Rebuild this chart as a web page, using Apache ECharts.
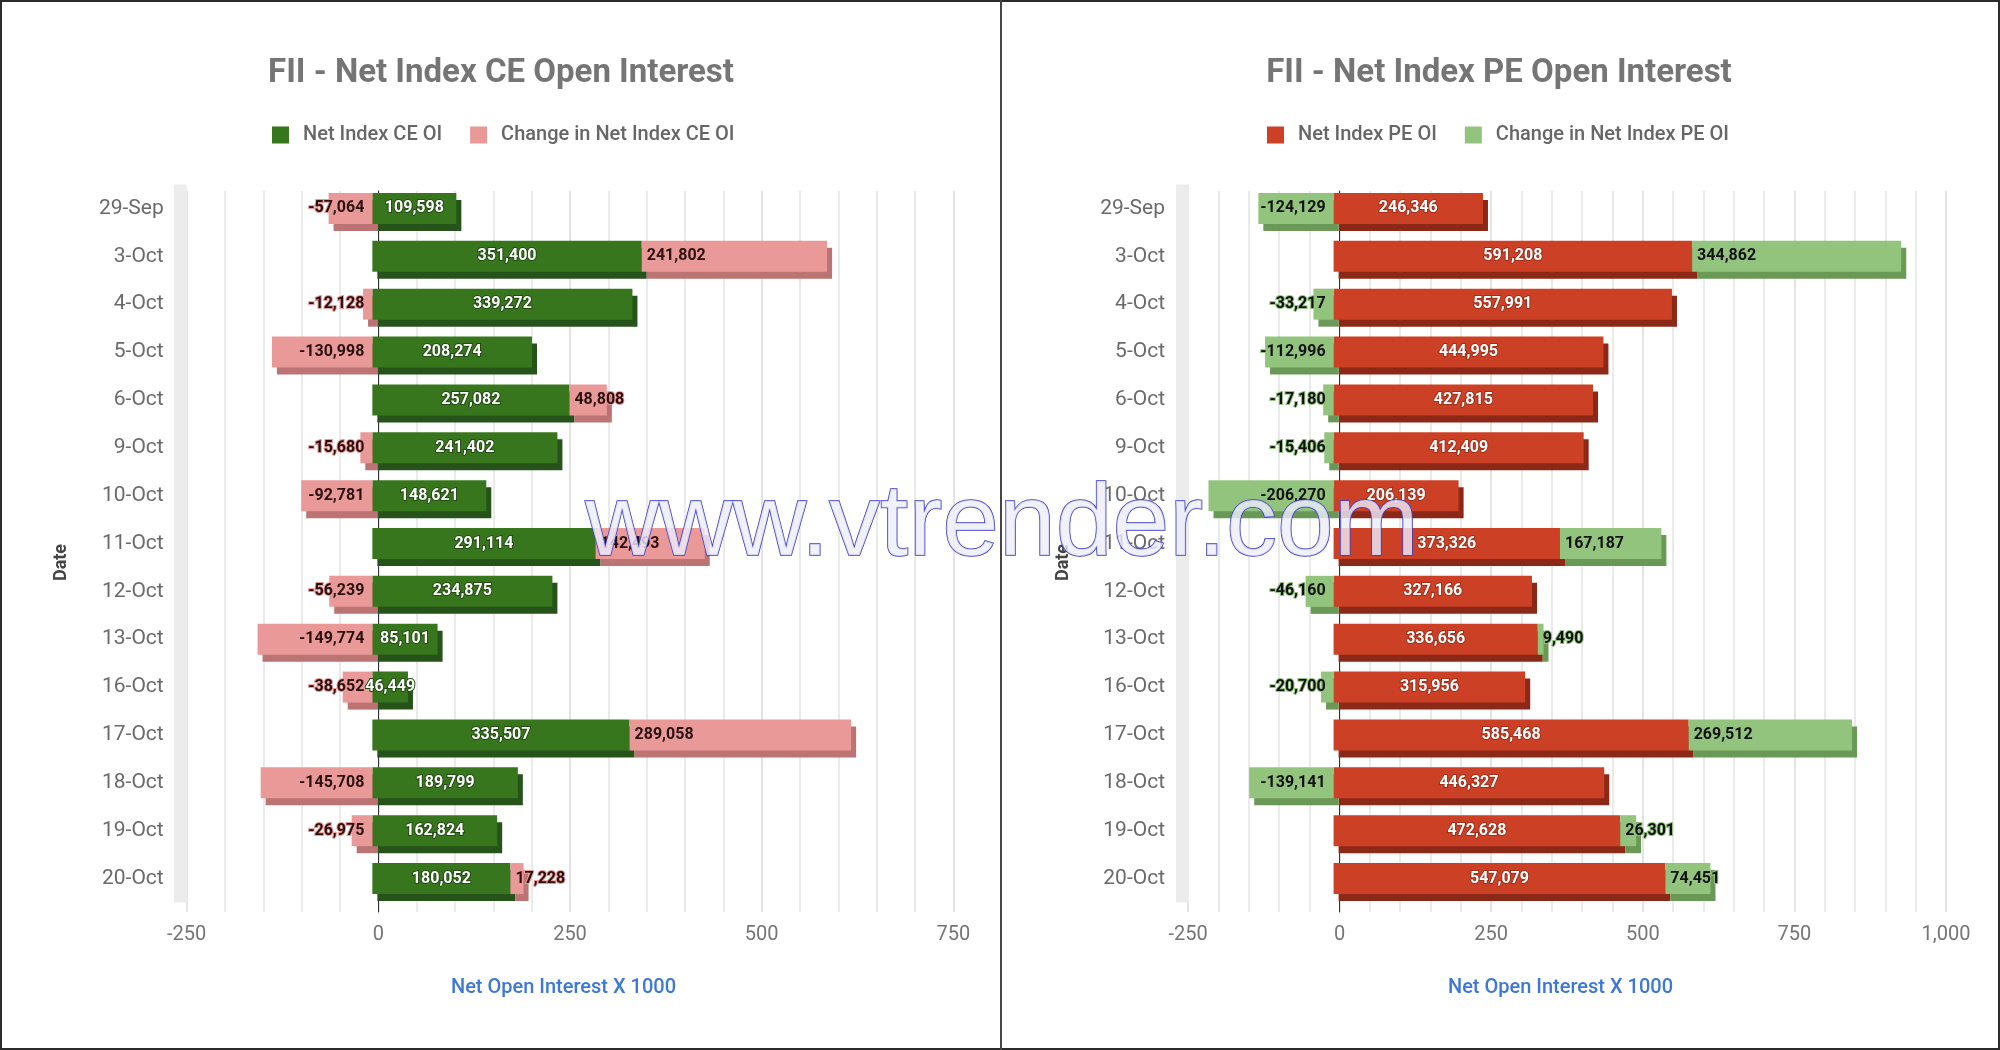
<!DOCTYPE html>
<html><head><meta charset="utf-8">
<script src="https://cdn.jsdelivr.net/npm/echarts@6/dist/echarts.min.js"></script>
<style>
html,body{margin:0;padding:0;background:#fff;}
#wrap{position:relative;width:2000px;height:1050px;overflow:hidden;}
#chart{position:absolute;left:0;top:0;width:2000px;height:1050px;}
#frame{position:absolute;left:0;top:0;width:2000px;height:1050px;box-sizing:border-box;border:2px solid #2b2b2b;pointer-events:none;}
#divider{position:absolute;left:1000px;top:0;width:2px;height:1050px;background:#444;pointer-events:none;}
</style></head><body>
<div id="wrap"><div id="chart"></div><div id="frame"></div><div id="divider"></div></div>
<script>
// ---- data ----
const dates = ['29-Sep','3-Oct','4-Oct','5-Oct','6-Oct','9-Oct','10-Oct','11-Oct','12-Oct','13-Oct','16-Oct','17-Oct','18-Oct','19-Oct','20-Oct'];
const ceOI = [109598,351400,339272,208274,257082,241402,148621,291114,234875,85101,46449,335507,189799,162824,180052];
const ceChange = [-57064,241802,-12128,-130998,48808,-15680,-92781,142493,-56239,-149774,-38652,289058,-145708,-26975,17228];
const peOI = [246346,591208,557991,444995,427815,412409,206139,373326,327166,336656,315956,585468,446327,472628,547079];
const peChange = [-124129,344862,-33217,-112996,-17180,-15406,-206270,167187,-46160,9490,-20700,269512,-139141,26301,74451];
const ceAxisMax = 750000;
const peAxisMax = 1000000;
const axisMin = -250000;
const tickStep = 250000;
const xAxisTitle = 'Net Open Interest X 1000';
const yAxisTitle = 'Date';

const FONT = 'Roboto, "Noto Sans", sans-serif';
const fmt = v => Number(v).toLocaleString('en-US');

const panels = [
  {title:'FII - Net Index CE Open Interest', titleX:496, legendX:267,
   mainName:'Net Index CE OI', chgName:'Change in Net Index CE OI', main:ceOI, chg:ceChange,
   mainColor:'#38761d', mainShade:'#25531a', chgColor:'#ea9999', chgShade:'#bb7373',
   mainLbl:'#ffffff', mainLblBorder:'#234d12', chgLbl:'#2a0f0f', chgLblBorder:'#ea9999',
   backLeft:186.7, width:766.6, max:ceAxisMax},
  {title:'FII - Net Index PE Open Interest', titleX:1494, legendX:1262,
   mainName:'Net Index PE OI', chgName:'Change in Net Index PE OI', main:peOI, chg:peChange,
   mainColor:'#cc4125', mainShade:'#8c2818', chgColor:'#93c47d', chgShade:'#6a9957',
   mainLbl:'#ffffff', mainLblBorder:'#a3301c', chgLbl:'#111111', chgLblBorder:'#93c47d',
   backLeft:1188, width:758, max:peAxisMax}
];

const option = {
  animation:false,
  backgroundColor:'#ffffff',
  title:[], legend:[], grid:[], xAxis:[], yAxis:[], series:[],
  graphic:[{
    type:'text', z:100, silent:true,
    style:{x:1002, y:527, text:'www.vtrender.com', align:'center', verticalAlign:'middle',
      font:'102px "Liberation Sans", Arial, sans-serif',
      fill:'rgba(238,238,252,0.8)', stroke:'#3a3ac8', lineWidth:1.5}
  }]
};

panels.forEach((p, i) => {
  const gA = 3*i, gB = 3*i+1, gC = 3*i+2;
  option.title.push({text:p.title, left:p.titleX, top:52, textAlign:'center',
    textStyle:{fontFamily:FONT, fontSize:33, fontWeight:'bold', color:'#757575'}});
  option.legend.push({data:[p.mainName, p.chgName], left:p.legendX, top:120, icon:'rect',
    itemWidth:17, itemHeight:17, itemGap:28, selectedMode:false,
    textStyle:{fontFamily:FONT, fontSize:20, fontWeight:500, color:'#666666', padding:[0,0,0,9]}});
  option.grid.push({left:p.backLeft, top:191, width:p.width, height:721});
  option.grid.push({left:p.backLeft-6, top:184.5, width:p.width, height:718});
  option.grid.push({left:p.backLeft-1, top:191.5, width:p.width, height:718});
  // visual x axis (gridlines and labels)
  option.xAxis.push({type:'value', gridIndex:gA, min:axisMin, max:p.max, interval:tickStep,
    axisLine:{show:false}, axisTick:{show:false},
    axisLabel:{formatter:v => fmt(v/1000), color:'#757575', fontSize:20, fontFamily:FONT, margin:13},
    splitLine:{show:true, lineStyle:{color:'#dadada', width:1.5}},
    minorTick:{show:false, splitNumber:5},
    minorSplitLine:{show:true, lineStyle:{color:'#e4e4e4', width:1.5}},
    name:xAxisTitle, nameLocation:'middle', nameGap:66,
    nameTextStyle:{fontFamily:FONT, fontSize:20, fontWeight:500, color:'#3d78d8', padding:[0,13,0,0]}});
  option.xAxis.push({type:'value', gridIndex:gB, min:axisMin, max:p.max, show:false});
  option.xAxis.push({type:'value', gridIndex:gC, min:axisMin, max:p.max, show:false});
  option.yAxis.push({type:'category', gridIndex:gA, data:dates, inverse:true,
    axisLine:{show:true, onZero:true, lineStyle:{color:'#333333', width:1}},
    axisTick:{show:false}, axisLabel:{show:false}, splitLine:{show:false}});
  option.yAxis.push({type:'category', gridIndex:gB, data:dates, inverse:true,
    axisLine:{show:true, onZero:false, lineStyle:{color:'#ececec', width:13, cap:'butt'}},
    axisTick:{show:false},
    axisLabel:{color:'#6a6a6a', fontSize:21, fontFamily:FONT, margin:17, padding:[0,0,6,0]},
    name:yAxisTitle, nameLocation:'middle', nameRotate:90, nameGap:110,
    nameTextStyle:{fontFamily:FONT, fontSize:18, fontWeight:'bold', color:'#444444', padding:[0,38,0,0]}});
  option.yAxis.push({type:'category', gridIndex:gC, data:dates, inverse:true, show:false});

  // 3D depth (shade) series
  option.series.push({type:'bar', xAxisIndex:gC, yAxisIndex:gC, stack:'S'+i, data:p.main,
    barWidth:31, silent:true, z:1, itemStyle:{color:p.mainShade}});
  option.series.push({type:'bar', xAxisIndex:gC, yAxisIndex:gC, stack:'S'+i, data:p.chg,
    barWidth:31, silent:true, z:1, itemStyle:{color:p.chgShade}});
  // front faces
  option.series.push({name:p.mainName, type:'bar', xAxisIndex:gB, yAxisIndex:gB, stack:'F'+i,
    data:p.main, barWidth:31, z:3, itemStyle:{color:p.mainColor},
    label:{show:true, position:'inside', formatter:o => fmt(o.value), color:p.mainLbl,
      textBorderColor:p.mainLblBorder, textBorderWidth:2, fontSize:16, fontWeight:'bold', fontFamily:FONT}});
  option.series.push({name:p.chgName, type:'bar', xAxisIndex:gB, yAxisIndex:gB, stack:'F'+i,
    data:p.chg.map(v => ({value:v, label:{position: v < 0 ? 'insideRight' : 'insideLeft', distance: v < 0 ? 8 : 5}})),
    barWidth:31, z:3, itemStyle:{color:p.chgColor},
    label:{show:true, formatter:o => fmt(o.value), color:p.chgLbl,
      textBorderColor:p.chgLblBorder, textBorderWidth:2, fontSize:16, fontWeight:'bold', fontFamily:FONT}});
});

const chart = echarts.init(document.getElementById('chart'), null, {renderer:'canvas'});
chart.setOption(option);
</script>
</body></html>
